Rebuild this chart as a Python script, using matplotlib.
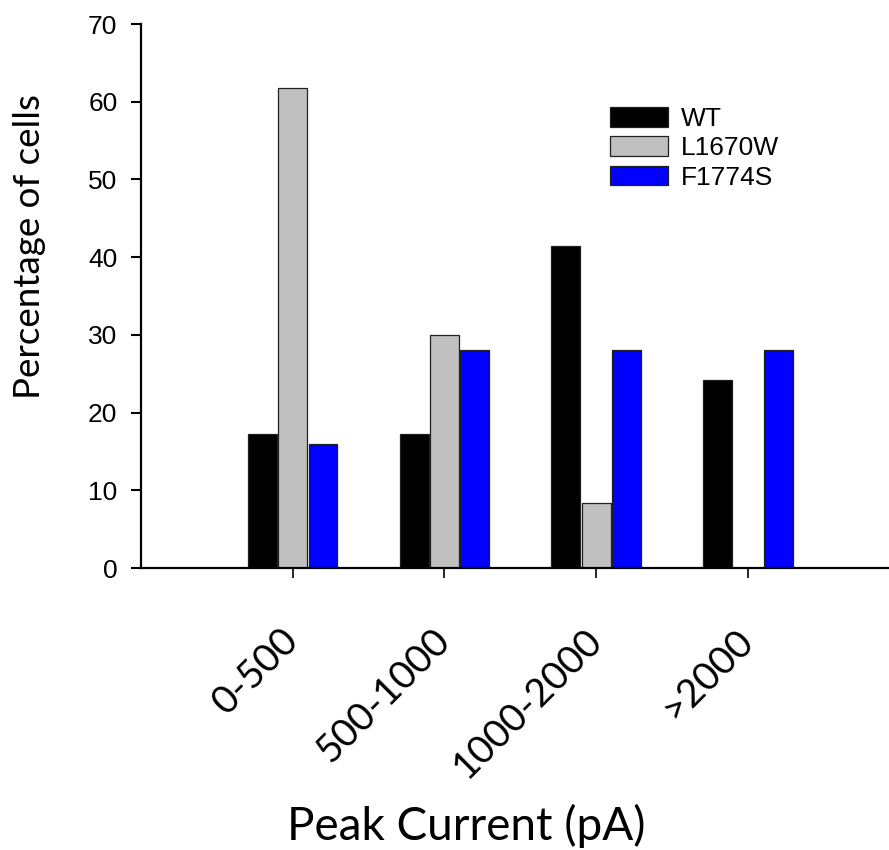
import matplotlib
matplotlib.use("Agg")
import matplotlib.pyplot as plt
import numpy as np
from matplotlib.patches import Patch

categories = ["0-500", "500-1000", "1000-2000", ">2000"]
series_names = ["WT", "L1670W", "F1774S"]
wt = [17.24, 17.24, 41.38, 24.14]
l1670w = [61.8, 30.0, 8.3, 0.0]
f1774s = [16.0, 28.0, 28.0, 28.0]
yticks = [0, 10, 20, 30, 40, 50, 60, 70]

colors = ["#000000", "#C0C0C0", "#0000FF"]

W, H = 889, 850
fig = plt.figure(figsize=(W / 100, H / 100), dpi=100)
ax = fig.add_axes([141 / W, (H - 568) / H, (W - 141) / W, (568 - 24) / H])

x = np.arange(len(categories))
offsets = [-0.2, 0.0, 0.2]
bw = 0.19
for vals, off, c, name in zip([wt, l1670w, f1774s], offsets, colors, series_names):
    v = np.array(vals)
    mask = v > 0
    ax.bar(x[mask] + off, v[mask], width=bw, color=c, edgecolor="#202020",
           linewidth=0.9, label=name, zorder=2)

ax.set_xlim(-1, 3.93)
ax.set_ylim(0, 70)
ax.set_yticks(yticks)
ax.set_yticklabels([str(t) for t in yticks], fontfamily="Liberation Sans", fontsize=19)
ax.set_xticks(x)
ax.set_xticklabels(categories, rotation=45, ha="right", va="center",
                   rotation_mode="anchor", fontfamily="Lato", fontsize=28)
ax.tick_params(axis="y", direction="out", length=7, width=1.5, pad=10)
ax.tick_params(axis="x", direction="out", length=7, width=1.2, pad=41)

for s in ["top", "right"]:
    ax.spines[s].set_visible(False)
for s in ["left", "bottom"]:
    ax.spines[s].set_linewidth(1.6)

fig.text(466 / W, 1 - 826 / H, "Peak Current (pA)", ha="center", va="center",
         fontfamily="Lato", fontsize=33)
fig.text(30 / W, 1 - 247 / H, "Percentage of cells", ha="center", va="center",
         rotation=90, fontfamily="Lato", fontsize=26.5)

handles = [Patch(facecolor=c, edgecolor="#202020", linewidth=0.9) for c in colors]
ax.legend(handles, series_names, loc="upper left",
          bbox_to_anchor=(610 / W, 1 - 107 / H), bbox_transform=fig.transFigure,
          frameon=False, prop={"family": "Liberation Sans", "size": 19},
          handlelength=2.2, handleheight=0.76, handletextpad=0.5,
          labelspacing=0.2, borderpad=0, borderaxespad=0)

fig.savefig("out.png", dpi=100)
